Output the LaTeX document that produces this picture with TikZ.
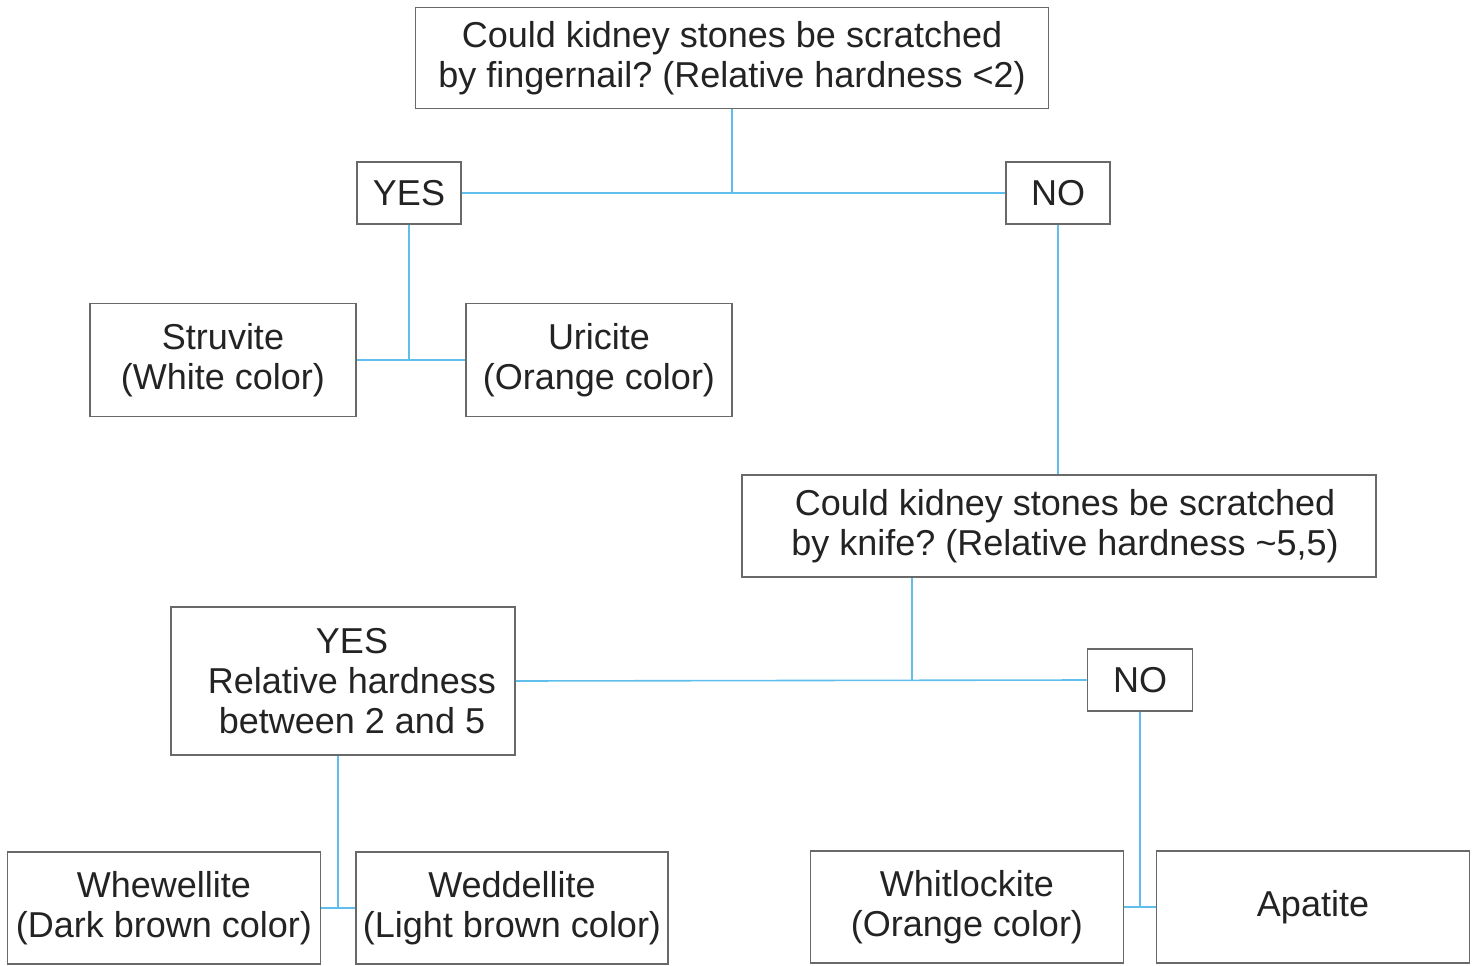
\documentclass[tikz,border=0pt]{standalone}
\usepackage{fontspec}
\setmainfont{Liberation Sans}
\frenchspacing
\usetikzlibrary{positioning}
\definecolor{linkblue}{RGB}{95,190,235}
\definecolor{boxgray}{RGB}{105,105,105}
\definecolor{textgray}{RGB}{35,35,35}
\tikzset{
  qbox/.style={draw=boxgray, line width=1.6pt, align=center, inner sep=0pt,
    text=textgray, font=\fontsize{36}{40}\selectfont},
  link/.style={draw=linkblue, line width=1.6pt},
}

\begin{document}
\begin{tikzpicture}[x=1pt,y=-1pt]
    \useasboundingbox (0,0) rectangle (1478,966);
    % first question
    \node[qbox, minimum width=633pt, minimum height=101pt] (nail) at (732,58)
        {Could kidney stones be scratched\\by fingernail? (Relative hardness <2)};
    \node[qbox, minimum width=104pt, minimum height=62pt] (yesA) at (409,193) {YES};
    \node[qbox, minimum width=104pt, minimum height=62pt] (noA) at (1058,193) {NO};
    \node[qbox, minimum width=266pt, minimum height=113pt] (struv) at (223,360)
        {Struvite\\(White color)};
    \node[qbox, minimum width=266pt, minimum height=113pt] (uric) at (599,360)
        {Uricite\\(Orange color)};
    % second question
    \node[qbox, minimum width=634pt, minimum height=102pt] (knife) at (1059,526)
        {\hspace*{12pt}Could kidney stones be scratched\\\hspace*{12pt}by knife? (Relative hardness \textasciitilde5,5)};
    \node[qbox, minimum width=344pt, minimum height=148pt] (yesB) at (343,681)
        {\hspace*{18pt}YES\\\hspace*{18pt}Relative hardness\\\hspace*{18pt}between 2 and 5};
    \node[qbox, minimum width=105pt, minimum height=62pt] (noB) at (1140,680) {NO};
    \node[qbox, minimum width=313pt, minimum height=112pt] (whew) at (164,908)
        {Whewellite\\(Dark brown color)};
    \node[qbox, minimum width=312pt, minimum height=112pt] (wedd) at (512,908)
        {Weddellite\\(Light brown color)};
    \node[qbox, minimum width=313pt, minimum height=112pt] (whit) at (967,907)
        {Whitlockite\\(Orange color)};
    \node[qbox, minimum width=313pt, minimum height=112pt] (apat) at (1313,907)
        {Apatite};
    \coordinate (kdrop) at (912,681);
    \coordinate (ydrop) at (338,908);
    % connectors
    \draw[link] (nail.south) -- (nail.south |- yesA.east);
    \draw[link] (yesA.east) -- (noA.west);
    \draw[link] (yesA.south) -- (yesA.south |- struv.east);
    \draw[link] (struv.east) -- (uric.west);
    \draw[link] (noA.south) -- (noA.south |- knife.north);
    \draw[link] (kdrop |- knife.south) -- (kdrop);
    \draw[link] (yesB.east) -- (noB.west);
    \draw[link] (ydrop |- yesB.south) -- (ydrop);
    \draw[link] (whew.east) -- (wedd.west);
    \draw[link] (noB.south) -- (noB.south |- whit.east);
    \draw[link] (whit.east) -- (apat.west);
\end{tikzpicture}
\end{document}
